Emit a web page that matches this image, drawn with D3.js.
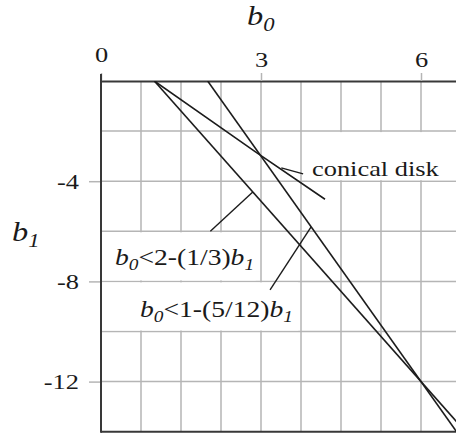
<!DOCTYPE html>
<html>
<head>
<meta charset="utf-8">
<script src="https://cdn.jsdelivr.net/npm/d3@7"></script>
<style>
  body { margin: 0; background: #fff; }
  text { font-family: "Liberation Serif", "Times New Roman", serif; fill: #1a1a1a; }
</style>
</head>
<body>
<svg id="chart" width="456" height="438"></svg>
<script>
// Axis ticks and grid positions (b0 across the top, b1 down the left)
const b0Ticks = [0, 3, 6];
const b1Ticks = [-4, -8, -12];
const b0Grid = [0.75, 1.5, 2.25, 3, 3.75, 4.5, 5.25, 6, 6.75];
const b1Grid = [-2, -4, -6, -8, -10, -12];

// Stability boundaries b0 = c + k * (-b1), constants taken from the labels
const boundaryIntercepts = [2, 1];       // 2 - (1/3) b1 , 1 - (5/12) b1
const boundarySlopes = [1 / 3, 5 / 12];
const boundaryB1 = [0, -14.5];

// Conical-disk curve, points as [b0, b1]
const conicalDisk = [[1, 0], [2.89, -2.82], [4.2, -4.72]];

// Leader lines, [b0, b1] end points
const leaderConical = [[3.38, -3.47], [3.79, -3.71]];
const leaderA = [[2.05, -6.0], [2.846, -4.43]];
const leaderB = [[3.17, -8.34], [3.94, -5.82]];

const svg = d3.select("#chart");
const x = d3.scaleLinear().domain([0, 6.75]).range([101, 461]);
const y = d3.scaleLinear().domain([0, -14]).range([81, 431.7]);
const SX = 1.2; // horizontal stretch of the serif lettering

const gridColor = "#b5b5b5";
const axisColor = "#383838";
const inkColor = "#1c1c1c";

// grid
svg.append("g").selectAll("line").data(b0Grid).join("line")
  .attr("x1", d => x(d)).attr("x2", d => x(d))
  .attr("y1", y(0)).attr("y2", y(-14))
  .attr("stroke", gridColor).attr("stroke-width", 1.5);
svg.append("g").selectAll("line").data(b1Grid).join("line")
  .attr("x1", x(0)).attr("x2", x(6.75))
  .attr("y1", d => y(d)).attr("y2", d => y(d))
  .attr("stroke", gridColor).attr("stroke-width", 1.5);

// white panels behind the annotations
const panels = [
  { b0: [0, 2.9], b1: [-6, -8] },
  { b0: [0, 3.7], b1: [-8, -10] },
  { b0: [3.85, 6.75], b1: [-2, -4] }
];
svg.append("g").selectAll("rect").data(panels).join("rect")
  .attr("x", d => x(d.b0[0]) + 1)
  .attr("y", d => y(d.b1[0]) + 1)
  .attr("width", d => x(d.b0[1]) - x(d.b0[0]) - 1)
  .attr("height", d => y(d.b1[1]) - y(d.b1[0]) - 2)
  .attr("fill", "#fff");

function stretch(sel) {
  sel.each(function () {
    const t = d3.select(this);
    const tx = +t.attr("x") || 0, ty = +t.attr("y") || 0;
    t.attr("x", 0).attr("y", 0)
     .attr("transform", `translate(${tx},${ty}) scale(${SX},1)`);
  });
}

// top axis (b0)
const gTop = svg.append("g").attr("transform", `translate(0,${y(0)})`)
  .call(d3.axisTop(x).tickValues(b0Ticks).tickSize(8).tickSizeOuter(0).tickPadding(6).tickFormat(d3.format("d")));
gTop.select(".domain").attr("stroke", axisColor).attr("stroke-width", 2);
gTop.selectAll(".tick line").attr("stroke", gridColor).attr("stroke-width", 1.5);
gTop.selectAll(".tick text")
  .attr("font-family", "Liberation Serif, serif").attr("font-size", 22).attr("fill", inkColor)
  .attr("y", d => d === 0 ? -19 : -14);
gTop.selectAll(".tick text").call(stretch);

// left axis (b1)
const gLeft = svg.append("g").attr("transform", `translate(${x(0)},0)`)
  .call(d3.axisLeft(y).tickValues(b1Ticks).tickSize(12).tickSizeOuter(0).tickPadding(10).tickFormat(d3.format("d")));
gLeft.select(".domain").remove();
gLeft.selectAll(".tick line").attr("stroke", gridColor).attr("stroke-width", 1.5);
gLeft.selectAll(".tick text")
  .attr("font-family", "Liberation Serif, serif").attr("font-size", 22).attr("fill", inkColor)
  .text(d => String(d).replace("\u2212", "-"));
gLeft.selectAll(".tick text").call(stretch);

// frame lines: left axis and bottom edge
svg.append("line").attr("x1", x(0)).attr("x2", x(0)).attr("y1", y(0) - 7).attr("y2", y(-14) + 1)
  .attr("stroke", axisColor).attr("stroke-width", 2);
svg.append("line").attr("x1", x(0)).attr("x2", x(6.75)).attr("y1", y(-14)).attr("y2", y(-14))
  .attr("stroke", axisColor).attr("stroke-width", 2);

// curves, clipped to the plot region
svg.append("clipPath").attr("id", "plot")
  .append("rect").attr("x", x(0)).attr("y", y(0)).attr("width", x(6.75) - x(0)).attr("height", y(-14) - y(0));
const line = d3.line().x(d => x(d[0])).y(d => y(d[1]));
const gCurves = svg.append("g").attr("clip-path", "url(#plot)");

boundaryIntercepts.forEach((c, i) => {
  const pts = boundaryB1.map(b1 => [c - boundarySlopes[i] * b1, b1]);
  gCurves.append("path").attr("d", line(pts))
    .attr("fill", "none").attr("stroke", inkColor).attr("stroke-width", 1.6);
});
gCurves.append("path").attr("d", line(conicalDisk))
  .attr("fill", "none").attr("stroke", inkColor).attr("stroke-width", 1.6);

// leaders
[leaderConical, leaderA, leaderB].forEach(l => {
  svg.append("path").attr("d", line(l))
    .attr("fill", "none").attr("stroke", inkColor).attr("stroke-width", 1.4);
});

// text helper: parts = [text, italic, subscript]
function label(px, py, size, parts) {
  const t = svg.append("text")
    .attr("transform", `translate(${px},${py}) scale(${SX},1)`)
    .attr("font-size", size);
  let shifted = false;
  parts.forEach(([s, it, sub]) => {
    const ts = t.append("tspan").text(s).attr("font-style", it ? "italic" : "normal");
    if (sub) { ts.attr("font-size", size * 0.7).attr("dy", size * 0.22); shifted = true; }
    else if (shifted) { ts.attr("dy", -size * 0.22); shifted = false; }
  });
  return t;
}

// axis titles
label(247, 25, 27, [["b", true], ["0", true, true]]);
label(12, 241, 27, [["b", true], ["1", true, true]]);

// annotations
label(312, 176, 22, [["conical disk", false]]);
label(115, 265, 23, [["b", true], ["0", true, true], ["<2-(1/3)", false], ["b", true], ["1", true, true]]);
label(140, 317, 23, [["b", true], ["0", true, true], ["<1-(5/12)", false], ["b", true], ["1", true, true]]);
</script>
</body>
</html>
